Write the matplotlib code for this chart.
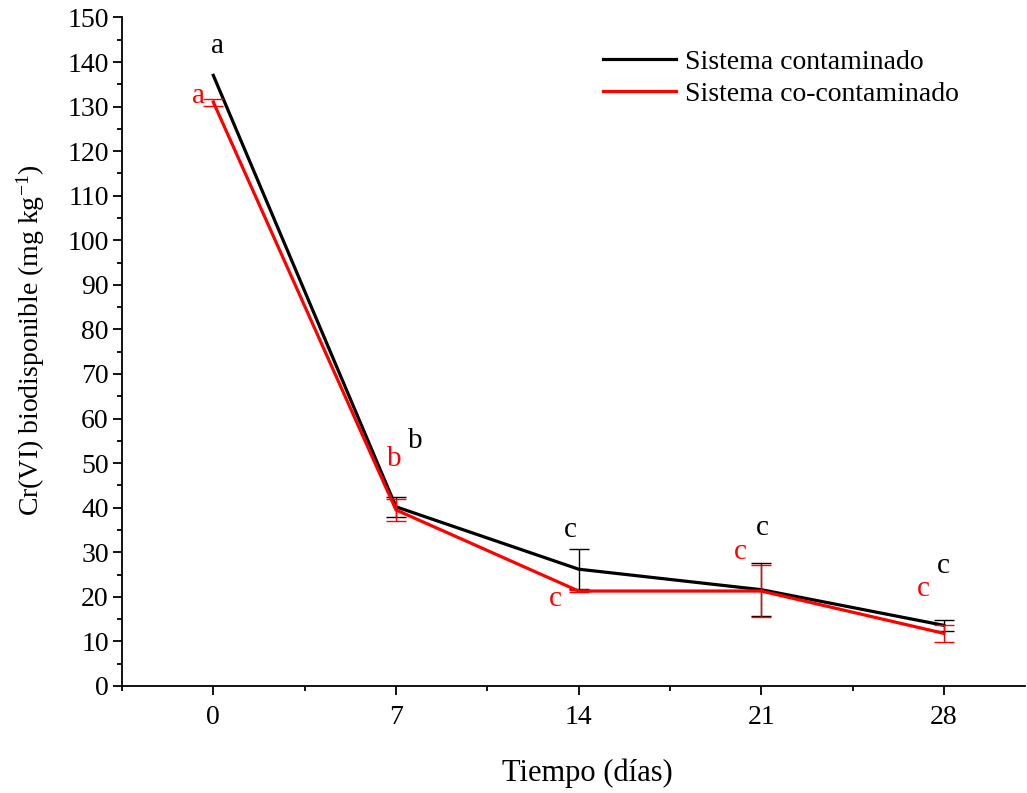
import numpy as np
import matplotlib.pyplot as plt
from matplotlib.ticker import MultipleLocator

# sampling days
dias = [0, 7, 14, 21, 28]

# Cr(VI) biodisponible, mg/kg
contaminado = [137.0, 40.2, 26.2, 21.6, 13.6]
contaminado_err = [0.0, 2.2, 4.5, 6.0, 1.2]
co_contaminado = [131.0, 39.5, 21.3, 21.3, 11.8]
co_contaminado_err = [0.8, 2.4, 0.3, 5.9, 1.9]

# significance letters (label, x, y)
letras_cont = [('a', 0.15, 143.5), ('b', 7.75, 55.0), ('c', 13.7, 35.0),
               ('c', 21.05, 35.5), ('c', 28.0, 27.0)]
letras_co = [('a', -0.55, 132.3), ('b', 6.95, 51.0), ('c', 13.1, 19.5),
             ('c', 20.2, 30.0), ('c', 27.2, 21.8)]

plt.rcParams['font.family'] = ['Liberation Serif', 'DejaVu Serif']
plt.rcParams['mathtext.fontset'] = 'custom'
plt.rcParams['mathtext.rm'] = 'Liberation Serif'
plt.rcParams['mathtext.default'] = 'regular'

fig = plt.figure(figsize=(10.27, 7.93), dpi=100)
ax = fig.add_axes([0.1188, 0.135, 0.879, 0.843])


def barras(x, y, err, color):
    # only points with a measured deviation get an error bar
    idx = [i for i, e in enumerate(err) if e > 0]
    ax.errorbar([x[i] for i in idx], [y[i] for i in idx],
                yerr=[err[i] for i in idx], fmt='none', ecolor=color,
                elinewidth=1, capsize=7, capthick=1)


ax.plot(dias, contaminado, color='black', lw=2.3, label='Sistema contaminado')
barras(dias, contaminado, contaminado_err, 'black')
ax.plot(dias, co_contaminado, color='red', lw=2.3, label='Sistema co-contaminado')
barras(dias, co_contaminado, co_contaminado_err, 'red')

for t, x, y in letras_cont:
    ax.text(x, y, t, color='black', fontsize=21, ha='center', va='center')
for t, x, y in letras_co:
    ax.text(x, y, t, color='red', fontsize=21, ha='center', va='center')

ax.set_xlim(-3.5, 31.1)
ax.set_ylim(0, 150)
ax.set_xticks(dias)
ax.xaxis.set_minor_locator(MultipleLocator(3.5))
ax.yaxis.set_major_locator(MultipleLocator(10))
ax.yaxis.set_minor_locator(MultipleLocator(5))
ax.tick_params(which='major', length=6.5, width=1.3, labelsize=20, direction='out')
ax.tick_params(axis='x', which='major', pad=7)
ax.tick_params(axis='y', which='major', pad=3)
ax.tick_params(which='minor', length=3.5, width=1.3, direction='out')

ax.spines['top'].set_visible(False)
ax.spines['right'].set_visible(False)
ax.spines['left'].set_linewidth(1.3)
ax.spines['bottom'].set_linewidth(1.3)

ax.set_xlabel('Tiempo (días)', fontsize=22)
ax.xaxis.set_label_coords(0.515, -0.108)
ax.set_ylabel('Cr(VI) biodisponible (mg kg$^{-1}$)', fontsize=20)
ax.yaxis.set_label_coords(-0.083, 0.517)

ax.legend(loc='upper right', bbox_to_anchor=(0.955, 0.99), frameon=False,
          fontsize=20, handlelength=2.6, handletextpad=0.35, labelspacing=0.25)

fig.savefig('out.png', dpi=100)
